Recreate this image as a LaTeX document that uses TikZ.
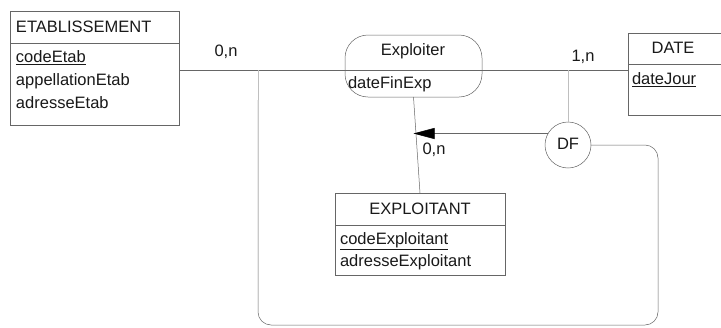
\documentclass[tikz,border=0pt]{standalone}
\usepackage{fontspec}
\setmainfont{Liberation Sans}
\usetikzlibrary{arrows.meta}
\begin{document}
\begin{tikzpicture}[x=1pt,y=-1pt,
  every node/.style={inner sep=0pt, outer sep=0pt},
  frame/.style={draw=black!60, line width=0.5pt},
  link/.style={draw=black!60, line width=0.5pt},
  faint/.style={draw=black!25, line width=0.5pt},
  txt/.style={font=\fontsize{16.5}{18}\selectfont, text=black!90},
  lbl/.style={font=\fontsize{16.5}{18}\selectfont, text=black!90}]
\useasboundingbox[fill=white] (0,0) rectangle (721,327);

% ETABLISSEMENT entity
\node[frame, anchor=north west, minimum width=169pt, minimum height=32pt] (etabH) at (10,11) {};
\node[frame, anchor=north west, minimum width=169pt, minimum height=82pt] (etabB) at (etabH.south west) {};
\node[txt, anchor=west] (etabT) at (16,27) {ETABLISSEMENT};
\node[txt, anchor=west] (etabA1) at (16,58) {\underline{codeEtab}};
\node[txt, anchor=west] (etabA2) at (16,81) {appellationEtab};
\node[txt, anchor=west] (etabA3) at (16,103) {adresseEtab};

% Exploiter association (rounded ends, attribute part below the bar)
\node[frame, rounded corners=23pt, minimum width=137pt, minimum height=62pt] (exp) at (413.5,66) {};
\coordinate (expL) at (345,70);
\coordinate (expR) at (482,70);
\draw[frame] (expL) -- (expR);
\node[txt] (expT) at (413,51) {Exploiter};
\node[txt, anchor=west] (expA) at (348,84) {dateFinExp};

% DATE entity (open on the right edge)
\coordinate (dateNW) at (628,33);
\coordinate (dateSep) at (628,64);
\coordinate (dateSW) at (628,115);
\draw[frame] (721,33) -- (dateNW) -- (dateSW) -- (721,115);
\draw[frame] (dateSep) -- (721,64);
\node[txt] (dateT) at (673,48) {DATE};
\node[txt, anchor=west] (dateA) at (632,80) {\underline{dateJour}};

% EXPLOITANT entity
\node[frame, anchor=north west, minimum width=170pt, minimum height=32pt] (explH) at (335,193) {};
\node[frame, anchor=north west, minimum width=170pt, minimum height=50pt] (explB) at (explH.south west) {};
\node[txt] (explT) at (420,209) {EXPLOITANT};
\node[txt, anchor=west] (explA1) at (340,241) {\underline{codeExploitant}};
\node[txt, anchor=west] (explA2) at (340,262) {adresseExploitant};

% links with cardinalities
\draw[link] (etabH.south east |- expL) -- (expL);
\node[lbl] (c1) at (226,52) {0,n};
\draw[link] (expR) -- (dateNW |- expR);
\node[lbl] (c2) at (583,57) {1,n};
\draw[link] (exp.south) -- (explH.north);
\node[lbl] (c3) at (434,150) {0,n};

% functional dependency constraint
\node[draw=black!60, line width=0.5pt, circle, minimum size=46pt] (df) at (568,145) {};
\node[lbl] (dfT) at (568,144) {DF};
\draw[link, -{Triangle[length=21pt, width=11pt, fill=black, color=black]}] (df.150) -- (exp.south |- df.150);
\draw[faint] (df.north |- expR) -- (df.north);
\draw[link, rounded corners=13pt] (df.east) -- (658,145) -- (658,325) -- (258,325) -- (258,100);
\draw[faint] (258,100) -- (258 , 0 |- expL);
\end{tikzpicture}
\end{document}
